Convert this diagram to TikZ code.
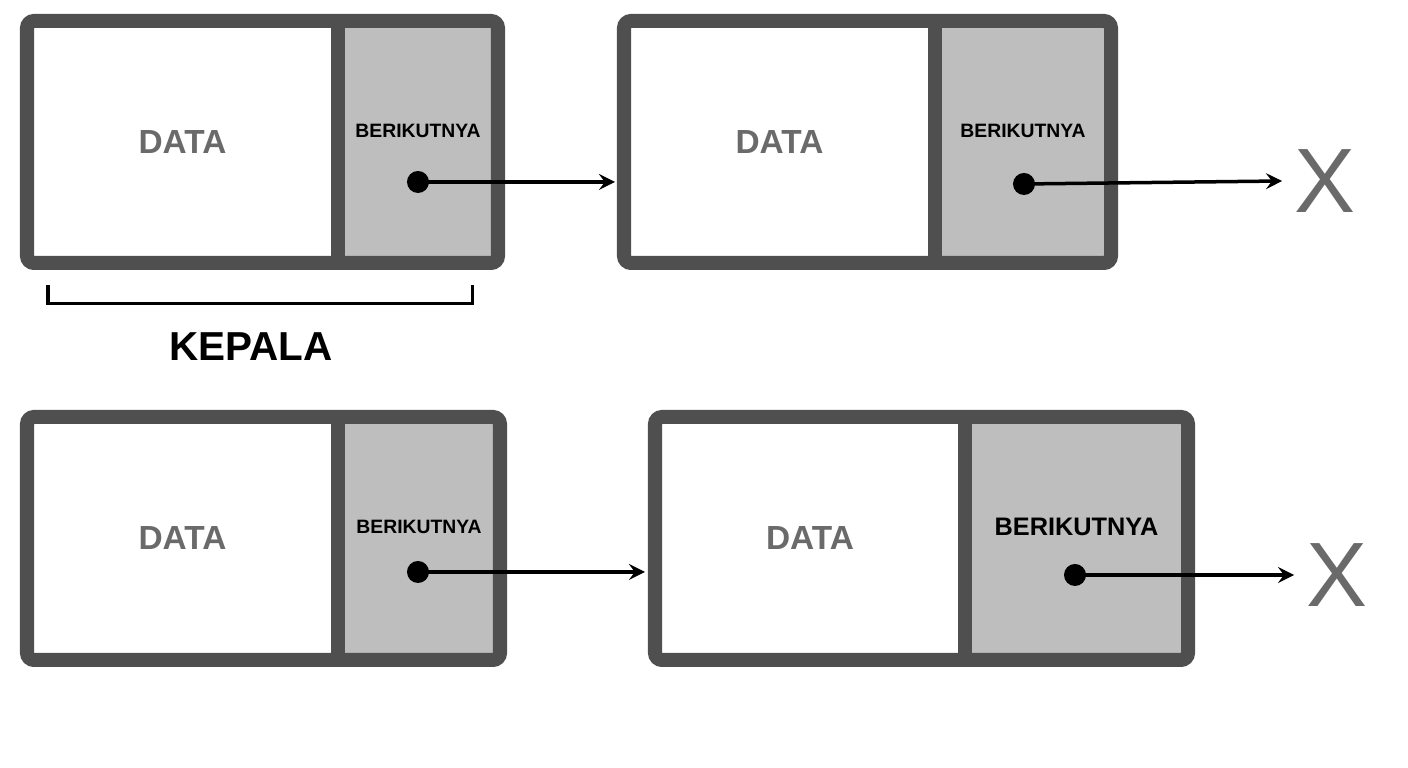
\documentclass[tikz,border=0pt]{standalone}
\usepackage{fontspec}
\setmainfont{Liberation Sans}
\usetikzlibrary{calc}
\usetikzlibrary{arrows}
\definecolor{frame}{HTML}{4F4F4F}
\definecolor{cell}{HTML}{BEBEBE}
\definecolor{datagray}{HTML}{6A6A6A}
\tikzset{
 box/.style={draw=frame, line width=0.14cm, rounded corners=2pt},
 ptr/.style={black, line width=0.035cm, ->, >=stealth},
 dot/.style={circle, fill=black, inner sep=0pt, minimum size=0.22cm},
 nil/.style={datagray, font=\fontsize{26}{26}\selectfont},
}
\begin{document}
\begin{tikzpicture}[x=0.01cm, y=-0.01cm]
\useasboundingbox (0,0) rectangle (1408,768);
% nodes: left, right, top, bottom, divider, berikutnya size
\foreach \n/\l/\r/\t/\b/\d/\s in {a/27/498/21/263/338/5.5, b/624/1111/21/263/935/5.5, c/27/500/417/660/338/5.5, d/655/1188/417/660/965/7.2} {
 \fill[cell] (\d,\t) rectangle (\r,\b);
 \draw[box] (\l,\t) rectangle (\r,\b);
 \draw[frame, line width=0.14cm] (\d,\t) -- (\d,\b);
 \node[datagray, font=\bfseries\fontsize{9.5}{10}\selectfont] (data-\n) at ($(\l,\t)!0.5!(\d,\b)$) {DATA};
 \node[font=\bfseries\fontsize{\s}{\s}\selectfont] (next-\n) at ($(\d,\t)!0.5!(\r,\t)+(0,110)$) {BERIKUTNYA};
}
\node[dot] (pa) at (418,182) {};
\node[dot] (pb) at (1024,184) {};
\node[dot] (pc) at (418,572) {};
\node[dot] (pd) at (1075,575) {};
\coordinate (ea) at (615,182);
\coordinate (ec) at (645,572);
\node[nil] (xb) at (1325,181) {X};
\node[nil] (xd) at (1337,575) {X};
\draw[ptr] (pa.center) -- (ea);
\draw[ptr] (pb.center) -- (xb.west);
\draw[ptr] (pc.center) -- (ec);
\draw[ptr] (pd.center) -- (xd.west);
% kepala
\draw[black, line width=0.03cm] (48,285) -- (48,304) -- (472,304) -- (472,285);
\node[font=\bfseries\fontsize{11.5}{12}\selectfont] (head) at (251,347) {KEPALA};
\end{tikzpicture}
\end{document}
